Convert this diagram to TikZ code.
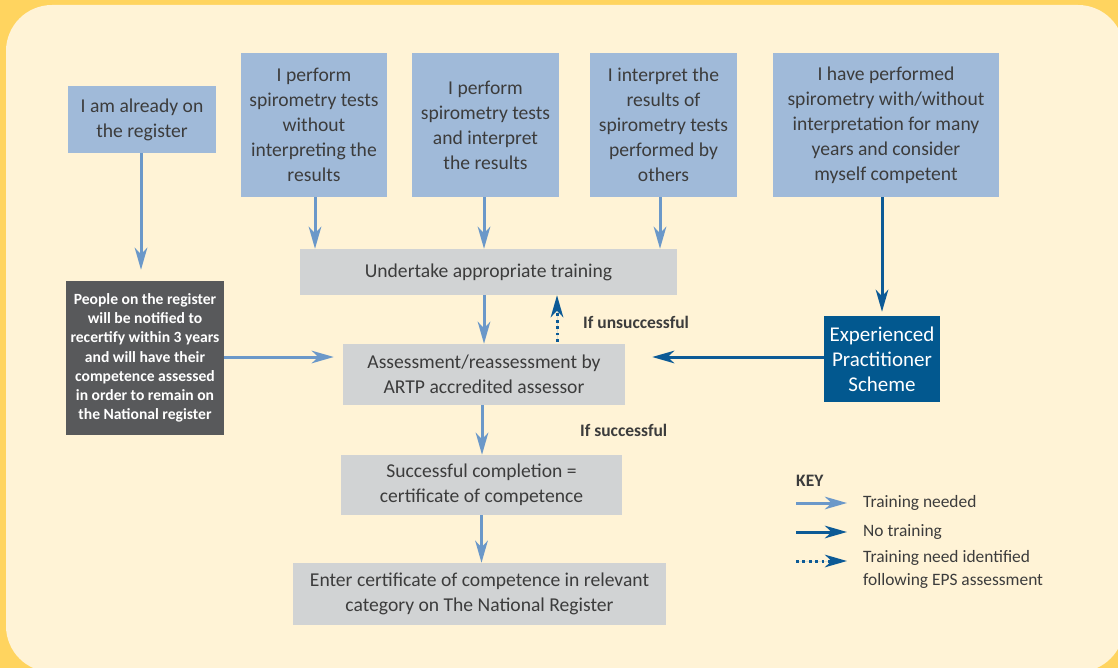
\documentclass[tikz,border=0pt]{standalone}
\usepackage{fontspec}
\setmainfont{Carlito}
\usetikzlibrary{arrows.meta,calc}
\definecolor{outerbg}{HTML}{FFD45F}
\definecolor{innerbg}{HTML}{FFF3D6}
\definecolor{bluebox}{HTML}{A0BAD9}
\definecolor{graybox}{HTML}{D1D3D4}
\definecolor{darkbox}{HTML}{58595B}
\definecolor{epsblue}{HTML}{02588F}
\definecolor{lightarrow}{HTML}{6B98C9}
\definecolor{darkarrow}{HTML}{0C5A96}
\definecolor{txt}{HTML}{3C3C3C}
\tikzset{
  boxbase/.style={inner sep=0pt, align=center, text=txt, font=\fontsize{19.6}{25}\selectfont},
  bluenode/.style={boxbase, fill=bluebox},
  graynode/.style={boxbase, fill=graybox},
  darknode/.style={inner sep=0pt, align=center, fill=darkbox, text=white, font=\bfseries\fontsize{15.6}{19.2}\selectfont},
  epsnode/.style={inner sep=0pt, align=center, fill=epsblue, text=white, font=\fontsize{21}{25}\selectfont},
  lbl/.style={inner sep=0pt, anchor=west, text=txt, font=\bfseries\fontsize{17.5}{19}\selectfont},
  keylbl/.style={inner sep=0pt, anchor=west, text=txt, font=\fontsize{17.4}{23}\selectfont, align=left},
  tip/.style={-{Stealth[length=22pt,width=12.5pt,inset=6.5pt]}},
  lightarr/.style={tip, draw=lightarrow, fill=lightarrow, line width=3pt},
  darkarr/.style={tip, draw=darkarrow, fill=darkarrow, line width=3pt},
  dotarr/.style={tip, draw=darkarrow, fill=darkarrow, line width=3pt, dash pattern=on 2.8pt off 3.6pt},
}
\begin{document}
\begin{tikzpicture}[x=1pt,y=-1pt]
\useasboundingbox (0,0) rectangle (1118,668);
\fill[outerbg] (0,0) rectangle (1118,668);
\fill[innerbg, rounded corners=46pt] (6,5) rectangle (1124,672);

% top boxes
\node[bluenode, minimum width=148pt, minimum height=67pt] (b1) at (142,119.5) {I am already on\\the register};
\node[bluenode, minimum width=146pt, minimum height=144pt] (b2) at (314,125) {I perform\\spirometry tests\\without\\interpreting the\\results};
\node[bluenode, minimum width=147pt, minimum height=144pt] (b3) at (485.5,125) {I perform\\spirometry tests\\and interpret\\the results};
\node[bluenode, minimum width=147pt, minimum height=144pt] (b4) at (663.5,125) {I interpret the\\results of\\spirometry tests\\performed by\\others};
\node[bluenode, minimum width=226pt, minimum height=144pt] (b5) at (886,125) {I have performed\\spirometry with/without\\interpretation for many\\years and consider\\myself competent};

% middle
\node[graynode, minimum width=377pt, minimum height=46pt] (train) at (488.5,272) {Undertake appropriate training};
\node[darknode, minimum width=158pt, minimum height=154pt] (dark) at (145,358) {People on the register\\will be notified to\\recertify within 3 years\\and will have their\\competence assessed\\in order to remain on\\the National register};
\node[epsnode, minimum width=116pt, minimum height=86pt] (eps) at (882,359) {Experienced\\Practitioner\\Scheme};
\node[graynode, minimum width=282pt, minimum height=61pt] (assess) at (484,374.5) {Assessment/reassessment by\\ARTP accredited assessor};
\node[graynode, minimum width=281pt, minimum height=60pt] (succ) at (481.5,485) {Successful completion =\\certificate of competence};
\node[graynode, minimum width=373pt, minimum height=62pt] (enter) at (479.5,594) {Enter certificate of competence in relevant\\category on The National Register};

\node[lbl] (unsucc) at (583,322) {If unsuccessful};
\node[lbl] (succlbl) at (580,430) {If successful};

% connectors
\draw[lightarr, shorten >=11pt] ([xshift=-1pt]b1.south) -- ([xshift=-1pt]b1.south |- dark.north);
\draw[lightarr] ([xshift=1pt]b2.south) -- ([xshift=1pt]b2.south |- train.north);
\draw[lightarr] ([xshift=-1.5pt]b3.south) -- ([xshift=-1.5pt]b3.south |- train.north);
\draw[lightarr] ([xshift=-3.5pt]b4.south) -- ([xshift=-3.5pt]b4.south |- train.north);
\draw[darkarr, shorten >=4pt] (b5.south -| eps.north) -- (eps.north);
\draw[lightarr] (train.south -| assess.north) -- (assess.north);
\draw[dotarr, shorten <=2pt] ([xshift=73pt]assess.north) -- ([xshift=73pt]assess.north |- train.south);
\draw[lightarr, shorten >=9pt] ([yshift=1pt]dark.east) -- ([yshift=1pt]dark.east -| assess.west);
\draw[darkarr, shorten >=27pt] ([yshift=2pt]eps.west) -- ([yshift=2pt]eps.west -| assess.east);
\draw[lightarr] ([xshift=-2pt]assess.south) -- ([xshift=-2pt]assess.south |- succ.north);
\draw[lightarr] (succ.south) -- (succ.south |- enter.north);

% key
\node[inner sep=0pt, anchor=west, text=txt, font=\bfseries\fontsize{17.5}{19}\selectfont] (key) at (796,481) {KEY};
\coordinate (k1a) at (796,503); \coordinate (k1b) at (847,503);
\coordinate (k2a) at (796,532); \coordinate (k2b) at (847,532);
\coordinate (k3a) at (796,561); \coordinate (k3b) at (847,561);
\draw[lightarr] (k1a) -- (k1b);
\draw[darkarr] (k2a) -- (k2b);
\draw[dotarr] (k3a) -- (k3b);
\node[keylbl] (kl1) at (863,503) {Training needed};
\node[keylbl] (kl2) at (863,532) {No training};
\node[keylbl, anchor=north west] (kl3) at (863,550) {Training need identified\\following EPS assessment};
\end{tikzpicture}
\end{document}
